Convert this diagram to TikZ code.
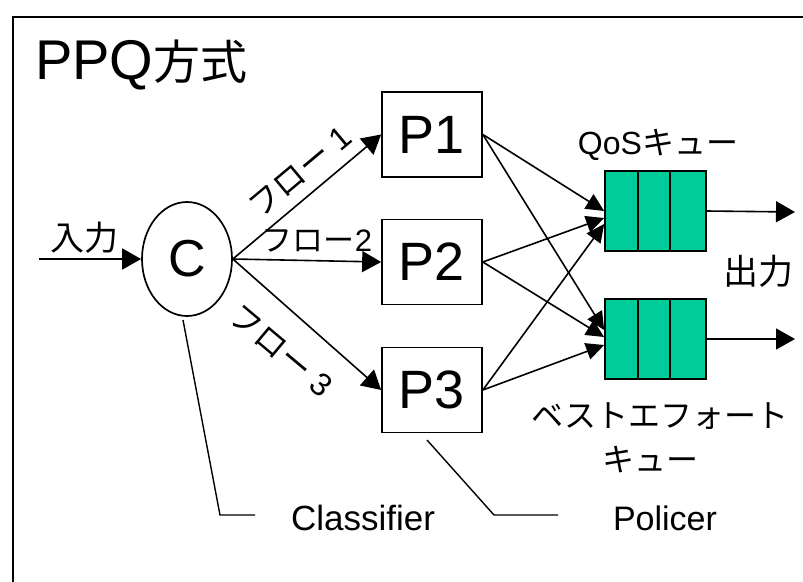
\documentclass[tikz,border=0pt]{standalone}
\usepackage{fontspec}
\setmainfont{Liberation Sans}
\newfontfamily\jp{Noto Sans CJK JP}
\usetikzlibrary{arrows.meta,shapes.geometric,calc}
\definecolor{qgreen}{RGB}{0,204,153}
\begin{document}
\begin{tikzpicture}[x=1pt,y=-1pt,
  fsz/.style={font=\fontsize{#1}{#1}\selectfont},
  lbl/.style={inner sep=0pt},
  pbox/.style={draw, line width=1.7pt, minimum width=100pt, minimum height=85pt, inner sep=0pt, fsz=54},
  queue/.style={draw, fill=qgreen, line width=1.7pt, minimum width=101pt, minimum height=80pt, inner sep=0pt},
  conn/.style={line width=1.6pt, -{Triangle[length=19pt,width=21pt]}},
  qconn/.style={line width=1.6pt, -{Triangle[length=18pt,width=17pt]}},
  callout/.style={line width=1.4pt}
]
\clip (0,0) rectangle (803,581);
\draw[line width=2pt] (13,17) rectangle (840,620);

% title
\node[lbl, fsz=56, anchor=base west] (title) at (35,79) {PPQ{\jp\fontsize{47}{47}\selectfont 方式}};

% classifier
\node[draw, ellipse, line width=1.7pt, minimum width=90pt, minimum height=114pt, inner sep=0pt, fsz=52] (C) at (187,259) {C};

% policers
\node[pbox] (P1) at (432,134.5) {P1};
\node[pbox] (P2) at (432,262) {P2};
\node[pbox] (P3) at (432,390) {P3};

% queues
\node[queue] (Q1) at (655.5,211) {};
\node[queue] (Q2) at (655.5,339) {};
\foreach \q in {Q1,Q2}{
  \foreach \f in {0.327,0.644}{
    \draw[line width=1.7pt] ($(\q.north west)!\f!(\q.north east)$) -- ($(\q.south west)!\f!(\q.south east)$);
  }
}

% input
\coordinate (in) at (39,259);
\draw[conn] (in) -- (C.west);
\node[lbl, fsz=34] (lin) at (84,238) {\jp 入力};

% flows
\draw[conn] (C.east) -- (P1.west);
\draw[conn] (C.east) -- (P2.west);
\draw[conn] (C.east) -- (P3.west);
\node[lbl, fsz=32, rotate=40] (f1) at (300,172) {{\jp フロー} 1};
\node[lbl, fsz=31] (f2) at (317,241) {{\jp フロー}2};
\node[lbl, fsz=32, rotate=-40] (f3) at (281,351) {{\jp フロー} 3};

% policer to queues
\draw[qconn] (P1.east) -- ($(Q1.west)+(0,0)$);
\draw[qconn] (P2.east) -- ($(Q1.west)+(0,7)$);
\draw[qconn] (P3.east) -- ($(Q1.west)+(0,13)$);
\draw[qconn] (P1.east) -- ($(Q2.west)+(0,-9)$);
\draw[qconn] (P2.east) -- ($(Q2.west)+(0,-2)$);
\draw[qconn] (P3.east) -- ($(Q2.west)+(0,6)$);

% outputs
\coordinate (o1) at (795,212);
\coordinate (o2) at (795,339);
\draw[conn] (Q1.east) -- (o1);
\draw[conn] (Q2.east) -- (o2);

% queue labels
\node[lbl, fsz=32] (lq) at (658,145) {QoS{\jp キュー}};
\node[lbl, fsz=35] (lout) at (758,271) {\jp 出力};
\node[lbl, fsz=32] (lbe1) at (660,416) {\jp ベストエフォート};
\node[lbl, fsz=32] (lbe2) at (650,460) {\jp キュー};

% callouts
\coordinate (c1) at (183,320);
\coordinate (c2) at (220,515);
\coordinate (c3) at (255,515);
\draw[callout] (c1) -- (c2) -- (c3);
\node[lbl, fsz=35] (lcl) at (363,518) {Classifier};

\coordinate (p1) at (427,440);
\coordinate (p2) at (494,515);
\coordinate (p3) at (558,515);
\draw[callout] (p1) -- (p2) -- (p3);
\node[lbl, fsz=34] (lpo) at (665,518) {Policer};
\end{tikzpicture}
\end{document}
